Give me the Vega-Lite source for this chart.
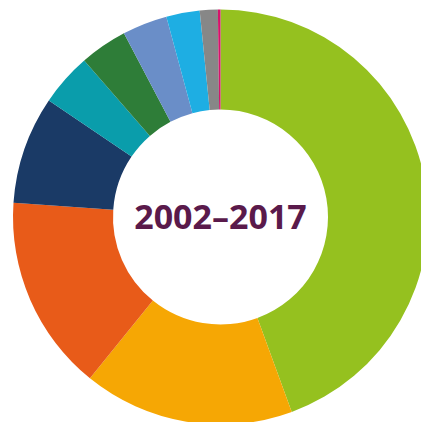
{
  "$schema": "https://vega.github.io/schema/vega-lite/v6.json",
  "width": 441,
  "height": 434,
  "autosize": "none",
  "padding": 0,
  "background": "white",
  "view": {"stroke": null},
  "layer": [
    {
      "data": {"values": [
        {"category": "A", "order": 1, "share": 44.4},
        {"category": "B", "order": 2, "share": 16.4},
        {"category": "C", "order": 3, "share": 15.25},
        {"category": "D", "order": 4, "share": 8.4},
        {"category": "E", "order": 5, "share": 4.1},
        {"category": "F", "order": 6, "share": 3.7},
        {"category": "G", "order": 7, "share": 3.5},
        {"category": "H", "order": 8, "share": 2.6},
        {"category": "I", "order": 9, "share": 1.4},
        {"category": "J", "order": 10, "share": 0.2}
      ]},
      "mark": {"type": "arc", "outerRadius": 207.5, "innerRadius": 107.5},
      "encoding": {
        "theta": {"field": "share", "type": "quantitative", "stack": true},
        "order": {"field": "order", "type": "quantitative"},
        "color": {
          "field": "category",
          "type": "nominal",
          "legend": null,
          "scale": {
            "domain": ["A", "B", "C", "D", "E", "F", "G", "H", "I", "J"],
            "range": ["#95c11f", "#f6a704", "#e85b19", "#1a3a66", "#0a9dab", "#2e7d38", "#6a8ec8", "#1eaee3", "#878787", "#d6136b"]
          }
        }
      }
    },
    {
      "data": {"values": [{"label": "2002–2017"}]},
      "mark": {
        "type": "text",
        "font": "Open Sans",
        "fontWeight": "bold",
        "fontSize": 34,
        "color": "#5a1a4b",
        "align": "center",
        "baseline": "middle",
        "dy": 2
      },
      "encoding": {"text": {"field": "label"}}
    }
  ]
}
